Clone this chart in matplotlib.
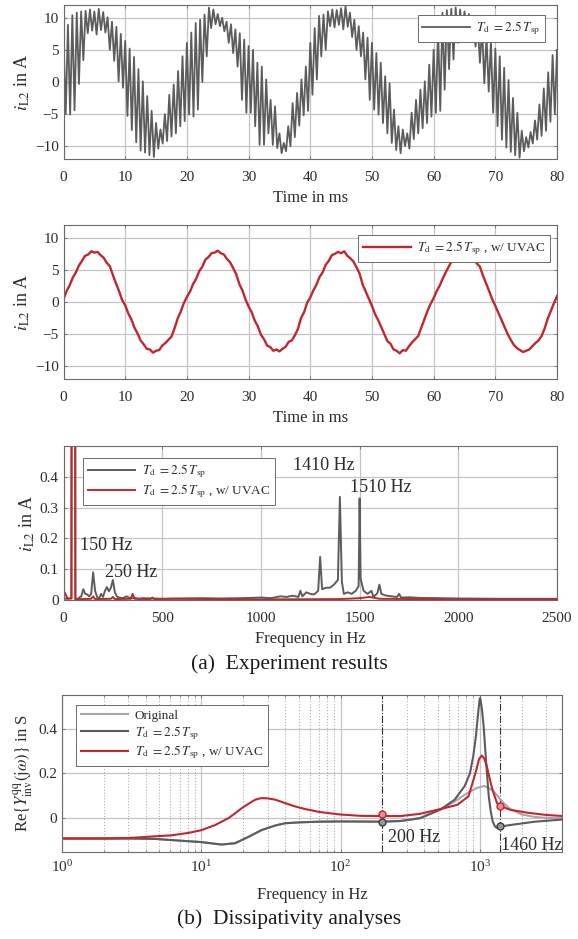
import numpy as np
import matplotlib.pyplot as plt
from matplotlib.ticker import FuncFormatter, LogLocator, NullFormatter

plt.rcParams['font.family'] = ['Liberation Serif', 'DejaVu Serif']
plt.rcParams['mathtext.fontset'] = 'stix'

# ---- panel 1: i_L2 with Td = 2.5 Tsp (ripple highs / lows, one pair per ripple cycle)
ripple_hi = [
    6.4, 8.9, 10.4, 10.8, 11.0, 11.1, 11.3, 11.0, 11.4, 10.9, 10.1, 9.4, 8.6, 7.5,
    6.4, 5.2, 3.9, 2.0, 0.1, -2.2, -4.5, -6.4, -7.4, -5.0, -2.0, -0.4, 1.7, 4.0,
    6.1, 7.7, 9.2, 9.7, 10.5, 11.6, 11.3, 10.6, 10.0, 9.4, 9.0, 8.2, 7.6, 6.6,
    5.6, 5.0, 3.0, 2.4, 0.4, -2.8, -3.8, -8.0, -9.5, -6.9, -3.3, -1.7, 0.4, 2.4,
    6.1, 8.4, 10.3, 10.5, 11.0, 11.3, 11.2, 11.5, 11.8, 10.8, 9.7, 8.7, 7.7, 6.9,
    6.1, 4.5, 3.0, 0.9, -0.2, -4.3, -6.9, -7.4, -8.0, -4.8, -2.8, -1.2, 0.1, 2.7,
    5.0, 8.5, 10.8, 11.2, 11.4, 11.6, 11.3, 11.0, 10.6, 9.8, 9.0, 8.4, 7.2, 6.3,
    5.2, 4.0, 2.2, 0.3, -2.5, -4.8, -7.6, -8.6, -7.8, -6.0, -3.5, -1.0, 1.5, 4.2,
]
ripple_lo = [
    -4.9, -5.1, -4.4, -0.3, 3.4, 7.6, 8.0, 7.4, 8.1, 7.7, 5.0, 3.3, 0.1, -0.9,
    -5.3, -7.5, -9.4, -10.7, -11.0, -11.4, -11.7, -10.4, -9.6, -9.2, -8.5, -8.0, -6.9, -6.1,
    -5.1, -5.4, -4.3, 0.0, 4.0, 8.4, 9.0, 8.7, 7.9, 6.1, 4.5, 2.4, -2.8, -4.8,
    -4.8, -6.9, -9.8, -9.8, -8.0, -9.8, -10.3, -11.1, -10.8, -10.0, -8.6, -6.8, -5.2, -4.5,
    -2.0, 0.4, 4.0, 5.0, 8.7, 8.5, 8.9, 8.2, 8.6, 7.0, 5.0, 4.0, 0.4, -2.8,
    -4.3, -5.1, -6.4, -8.0, -9.5, -10.6, -11.1, -10.0, -10.4, -8.9, -8.0, -7.2, -6.4, -5.4,
    -4.8, -4.5, -1.2, 2.0, 3.5, 6.1, 7.7, 8.2, 7.5, 5.5, 3.0, -0.2, -1.5, -4.8,
    -6.9, -9.0, -10.2, -10.9, -11.4, -11.8, -10.8, -10.2, -9.6, -9.0, -8.4, -7.6, -6.2, -5.0,
]
ripple_end = 5.0

# ---- panel 2: i_L2 with UVAC, sampled every 0.5 ms
uvac_current = [
    0.5, 1.7, 2.6, 3.8, 4.6, 5.7, 6.4, 7.2, 7.4, 7.9, 7.7, 7.8, 7.3, 6.9, 6.1, 5.6, 4.2, 2.9, 1.7, 0.3,
    -0.5, -1.8, -2.7, -4.0, -4.9, -6.0, -6.6, -7.3, -7.4, -7.9, -7.6, -7.5, -6.8, -6.4, -5.9, -5.4, -4.1, -2.6, -1.5, -0.2,
    0.8, 1.6, 2.8, 3.6, 4.8, 5.5, 6.6, 7.0, 7.6, 7.7, 8.0, 7.6, 7.4, 6.7, 6.2, 5.3, 4.3, 2.8, 1.8, 0.4,
    -0.7, -1.6, -2.9, -3.8, -5.1, -5.8, -6.8, -7.0, -7.6, -7.4, -7.7, -7.3, -7.0, -6.2, -6.0, -5.2, -4.2, -2.5, -1.6, -0.1,
    0.7, 1.8, 2.7, 3.9, 4.6, 5.8, 6.4, 7.3, 7.5, 7.8, 7.6, 7.9, 7.2, 6.8, 6.3, 5.4, 4.4, 2.7, 1.6, 0.5,
    -0.6, -1.9, -2.8, -3.9, -5.0, -6.1, -6.5, -7.4, -7.6, -8.0, -7.5, -7.6, -6.9, -6.3, -5.8, -5.3, -4.0, -2.7, -1.4, -0.3,
    0.6, 1.7, 2.6, 3.7, 4.7, 5.6, 6.5, 7.1, 7.5, 7.7, 7.8, 7.5, 7.4, 6.8, 6.0, 5.5, 4.1, 2.9, 1.7, 0.4,
    -0.6, -1.7, -2.8, -3.9, -5.0, -5.9, -6.7, -7.2, -7.5, -7.8, -7.6, -7.4, -6.9, -6.4, -6.0, -5.3, -4.1, -2.6, -1.4, -0.2,
    0.9,
]

# ---- panel 3: spectra (Hz, A)
spec_td = [
    (0, 0.005), (20, 0.004), (40, 0.006), (50, 7.5), (60, 0.004), (70, 0.003), (80, 0.008),
    (90, 0.012), (100, 0.035), (110, 0.02), (120, 0.018), (130, 0.012), (140, 0.02), (150, 0.09),
    (160, 0.03), (170, 0.01), (180, 0.005), (190, 0.02), (200, 0.01), (210, 0.03), (220, 0.042),
    (230, 0.028), (240, 0.04), (250, 0.065), (260, 0.025), (270, 0.012), (280, 0.008), (300, 0.006),
    (320, 0.012), (340, 0.005), (360, 0.007), (380, 0.004), (400, 0.006), (450, 0.005), (500, 0.004),
    (600, 0.005), (700, 0.006), (800, 0.005), (900, 0.006), (1000, 0.008), (1050, 0.006),
    (1100, 0.012), (1130, 0.01), (1160, 0.014), (1190, 0.01), (1200, 0.03), (1210, 0.012),
    (1230, 0.025), (1250, 0.02), (1270, 0.018), (1290, 0.03), (1300, 0.14), (1310, 0.035),
    (1330, 0.04), (1350, 0.04), (1370, 0.05), (1390, 0.065), (1400, 0.335), (1410, 0.06),
    (1420, 0.02), (1440, 0.025), (1460, 0.02), (1480, 0.03), (1495, 0.045), (1500, 0.33),
    (1505, 0.07), (1520, 0.03), (1540, 0.02), (1560, 0.03), (1570, 0.01), (1590, 0.022),
    (1600, 0.05), (1610, 0.02), (1630, 0.015), (1660, 0.012), (1690, 0.01), (1700, 0.02),
    (1710, 0.008), (1750, 0.009), (1800, 0.007), (1900, 0.006), (2000, 0.005), (2200, 0.004),
    (2500, 0.004),
]
spec_uvac = [
    (0, 0.03), (10, 0.02), (20, 0.005), (40, 0.005), (50, 7.5), (60, 0.003), (100, 0.003),
    (140, 0.004), (150, 0.012), (160, 0.003), (240, 0.004), (250, 0.01), (260, 0.003),
    (340, 0.004), (350, 0.02), (360, 0.004), (440, 0.003), (450, 0.008), (460, 0.003),
    (550, 0.004), (1000, 0.002), (1400, 0.003), (1500, 0.006), (1550, 0.01), (1600, 0.004),
    (2000, 0.002), (2500, 0.002),
]
spec_labels = [(84, 0.161, '150 Hz'), (210, 0.076, '250 Hz'),
               (1163, 0.422, '1410 Hz'), (1451, 0.35, '1510 Hz')]

# ---- panel 4: Re{Y_inv^qq(jw)} (Hz, S)
adm_orig = [
    (1, -0.090), (3, -0.090), (4.7, -0.092), (6.1, -0.097), (10, -0.106), (14, -0.117),
    (17.5, -0.111), (21.8, -0.083), (27, -0.053), (34, -0.032), (40, -0.022), (51, -0.018),
    (71, -0.015), (100, -0.014), (200, -0.015), (270, -0.012), (372, 0.002), (520, 0.040),
    (660, 0.075), (780, 0.105), (950, 0.135), (1080, 0.144), (1240, 0.125), (1380, 0.090),
    (1500, 0.065), (1650, 0.042), (2000, 0.017), (2500, 0.006), (3000, 0.002), (4000, 0.0),
]
adm_td = [
    (1, -0.090), (3, -0.090), (4.7, -0.092), (6.1, -0.097), (10, -0.106), (14, -0.117),
    (17.5, -0.111), (21.8, -0.083), (27, -0.053), (34, -0.032), (40, -0.022), (51, -0.018),
    (71, -0.015), (100, -0.014), (200, -0.015), (270, -0.012), (372, 0.0), (520, 0.038),
    (660, 0.083), (780, 0.144), (850, 0.20), (900, 0.28), (940, 0.37), (970, 0.46),
    (1000, 0.535), (1010, 0.535), (1040, 0.48), (1070, 0.40), (1100, 0.29), (1130, 0.19),
    (1160, 0.10), (1200, 0.03), (1240, -0.015), (1290, -0.038), (1330, -0.042), (1400, -0.037),
    (1650, -0.030), (2500, -0.015), (4000, -0.005),
]
adm_uvac = [
    (1, -0.090), (2, -0.090), (3, -0.088), (4.7, -0.080), (6.1, -0.076), (8.1, -0.065),
    (10, -0.053), (12.6, -0.030), (15.6, 0.0), (17.5, 0.022), (19.5, 0.045), (22, 0.066),
    (24.4, 0.083), (27, 0.090), (30, 0.089), (34, 0.083), (40, 0.068), (46, 0.055),
    (55, 0.042), (71, 0.028), (100, 0.017), (140, 0.011), (200, 0.010), (270, 0.010),
    (372, 0.020), (520, 0.041), (690, 0.060), (830, 0.098), (930, 0.20), (990, 0.265),
    (1035, 0.28), (1080, 0.265), (1120, 0.235), (1230, 0.13), (1330, 0.068), (1400, 0.056),
    (1650, 0.038), (2200, 0.025), (3000, 0.015), (4000, 0.010),
]
check_freqs = [200, 1400]
check_uvac = [0.018, 0.056]
check_td = [-0.016, -0.035]
check_labels = [(220, -0.107, '200 Hz'), (1420, -0.142, '1460 Hz')]

GREY = '#5c5c5c'
LIGHT = '#a8a8a8'
RED = '#c1272d'
TXT = '#2b2b2b'
td_label = r'$T_{\rm d}\ = 2.5\,T_{\rm sp}$'
uvac_label = r'$T_{\rm d}\ = 2.5\,T_{\rm sp}$ , w/ UVAC'


def style(ax, xpad=8.5):
    ax.grid(True, color='#c4c4c4', linewidth=0.9)
    ax.set_axisbelow(True)
    for s in ax.spines.values():
        s.set_color('#6a6a6a')
        s.set_linewidth(0.8)
    ax.tick_params(direction='in', length=2.5, width=0.6, colors='#6a6a6a',
                   labelcolor=TXT, labelsize=11, top=True, right=True)
    ax.tick_params(axis='x', pad=xpad)


def legend(ax, **kw):
    lg = ax.legend(fontsize=9.5, fancybox=False, framealpha=1, edgecolor='#6a6a6a',
                   handlelength=3.6, handletextpad=0.5, borderpad=0.35,
                   labelspacing=0.15, borderaxespad=0, **kw)
    lg.get_frame().set_linewidth(0.7)
    for t in lg.get_texts():
        t.set_color(TXT)
    return lg


gfmt = FuncFormatter(lambda v, p: ('%g' % v).replace('-', '\u2212'))
fig = plt.figure(figsize=(5.78, 9.39), dpi=100)

# panel 1
ax1 = fig.add_axes([0.1099, 0.8307, 0.8538, 0.1640])
zig = np.empty(2 * len(ripple_hi) + 1)
zig[0:-1:2] = ripple_hi
zig[1:-1:2] = ripple_lo
zig[-1] = ripple_end
t1 = np.arange(len(zig)) * 80.0 / (len(zig) - 1)
ax1.plot(t1, zig, color=GREY, linewidth=1.3, label=td_label)
ax1.set_xlim(0, 80)
ax1.set_ylim(-12, 12)
ax1.set_xticks(np.arange(0, 81, 10))
ax1.set_yticks([-10, -5, 0, 5, 10])
ax1.yaxis.set_major_formatter(gfmt)
ax1.set_xlabel('Time in ms', fontsize=12, color=TXT, labelpad=4.5)
ax1.set_ylabel(r'$i_{\rm L2}$ in A', fontsize=13, color=TXT, labelpad=2)
style(ax1)
legend(ax1, loc='upper right', bbox_to_anchor=(0.976, 0.935))

# panel 2
ax2 = fig.add_axes([0.1099, 0.5964, 0.8538, 0.1640])
t2 = np.arange(len(uvac_current)) * 0.5
ax2.plot(t2, uvac_current, color=RED, linewidth=1.7, label=uvac_label)
ax2.set_xlim(0, 80)
ax2.set_ylim(-12, 12)
ax2.set_xticks(np.arange(0, 81, 10))
ax2.set_yticks([-10, -5, 0, 5, 10])
ax2.yaxis.set_major_formatter(gfmt)
ax2.set_xlabel('Time in ms', fontsize=12, color=TXT, labelpad=4.5)
ax2.set_ylabel(r'$i_{\rm L2}$ in A', fontsize=13, color=TXT, labelpad=2)
style(ax2)
legend(ax2, loc='upper right', bbox_to_anchor=(0.986, 0.935))

# panel 3
ax3 = fig.add_axes([0.1099, 0.3610, 0.8538, 0.1640])
f_td, a_td = zip(*spec_td)
f_uv, a_uv = zip(*spec_uvac)
ax3.plot(f_td, a_td, color=GREY, linewidth=1.4, label=td_label)
ax3.plot(f_uv, a_uv, color=RED, linewidth=1.4, label=uvac_label)
for x, y, s in spec_labels:
    ax3.text(x, y, s, fontsize=13, color=TXT, va='baseline')
ax3.set_xlim(0, 2500)
ax3.set_ylim(0, 0.5)
ax3.set_xticks(np.arange(0, 2501, 500))
ax3.set_yticks([0, 0.1, 0.2, 0.3, 0.4])
ax3.yaxis.set_major_formatter(gfmt)
ax3.set_xlabel('Frequency in Hz', fontsize=12, color=TXT, labelpad=4.5)
ax3.set_ylabel(r'$i_{\rm L2}$ in A', fontsize=13, color=TXT, labelpad=2)
style(ax3)
legend(ax3, loc='upper left', bbox_to_anchor=(0.04, 0.922))

fig.text(0.5, 0.2925, '(a)  Experiment results', fontsize=15.5, color='#1a1a1a',
         ha='center', va='center')

# panel 4
ax4 = fig.add_axes([0.1073, 0.0927, 0.8651, 0.1672])
for data, col, lab in [(adm_orig, LIGHT, 'Original'), (adm_td, GREY, td_label),
                       (adm_uvac, RED, uvac_label)]:
    f, y = zip(*data)
    ax4.plot(f, y, color=col, linewidth=1.5, label=lab)
for fc in check_freqs:
    ax4.axvline(fc, color='#333333', linestyle='-.', linewidth=0.8, zorder=1)
ax4.plot(check_freqs, check_uvac, 'o', ms=5, mfc='#f08a8a', mec=RED, mew=1.0, zorder=5)
ax4.plot(check_freqs, check_td, 'o', ms=5, mfc='#9a9a9a', mec='#3a3a3a', mew=1.0, zorder=5)
for x, y, s in check_labels:
    ax4.text(x, y, s, fontsize=13, color=TXT, va='baseline')
ax4.set_xscale('log')
ax4.set_xlim(1, 3900)
ax4.set_ylim(-0.15, 0.55)
ax4.set_yticks([0, 0.2, 0.4])
ax4.yaxis.set_major_formatter(gfmt)
ax4.xaxis.set_major_locator(LogLocator(base=10, numticks=10))
ax4.xaxis.set_minor_locator(LogLocator(base=10, subs=np.arange(2, 10), numticks=20))
ax4.xaxis.set_minor_formatter(NullFormatter())
style(ax4, xpad=5.0)
ax4.grid(True, which='minor', axis='x', color='#b0b0b0', linestyle=':', linewidth=0.8)
ax4.tick_params(which='minor', direction='in', length=1.5, colors='#6a6a6a', top=True)
ax4.set_xlabel('Frequency in Hz', fontsize=12, color=TXT, labelpad=9)
ax4.set_ylabel(r'Re$\{Y^{\rm qq}_{\rm inv}({\rm j}\omega)\}$ in S', fontsize=12,
               color=TXT, labelpad=2)
legend(ax4, loc='upper left', bbox_to_anchor=(0.028, 0.936))

fig.text(0.5, 0.0215, '(b)  Dissipativity analyses', fontsize=15.5, color='#1a1a1a',
         ha='center', va='center')

fig.savefig('out.png', dpi=100)
